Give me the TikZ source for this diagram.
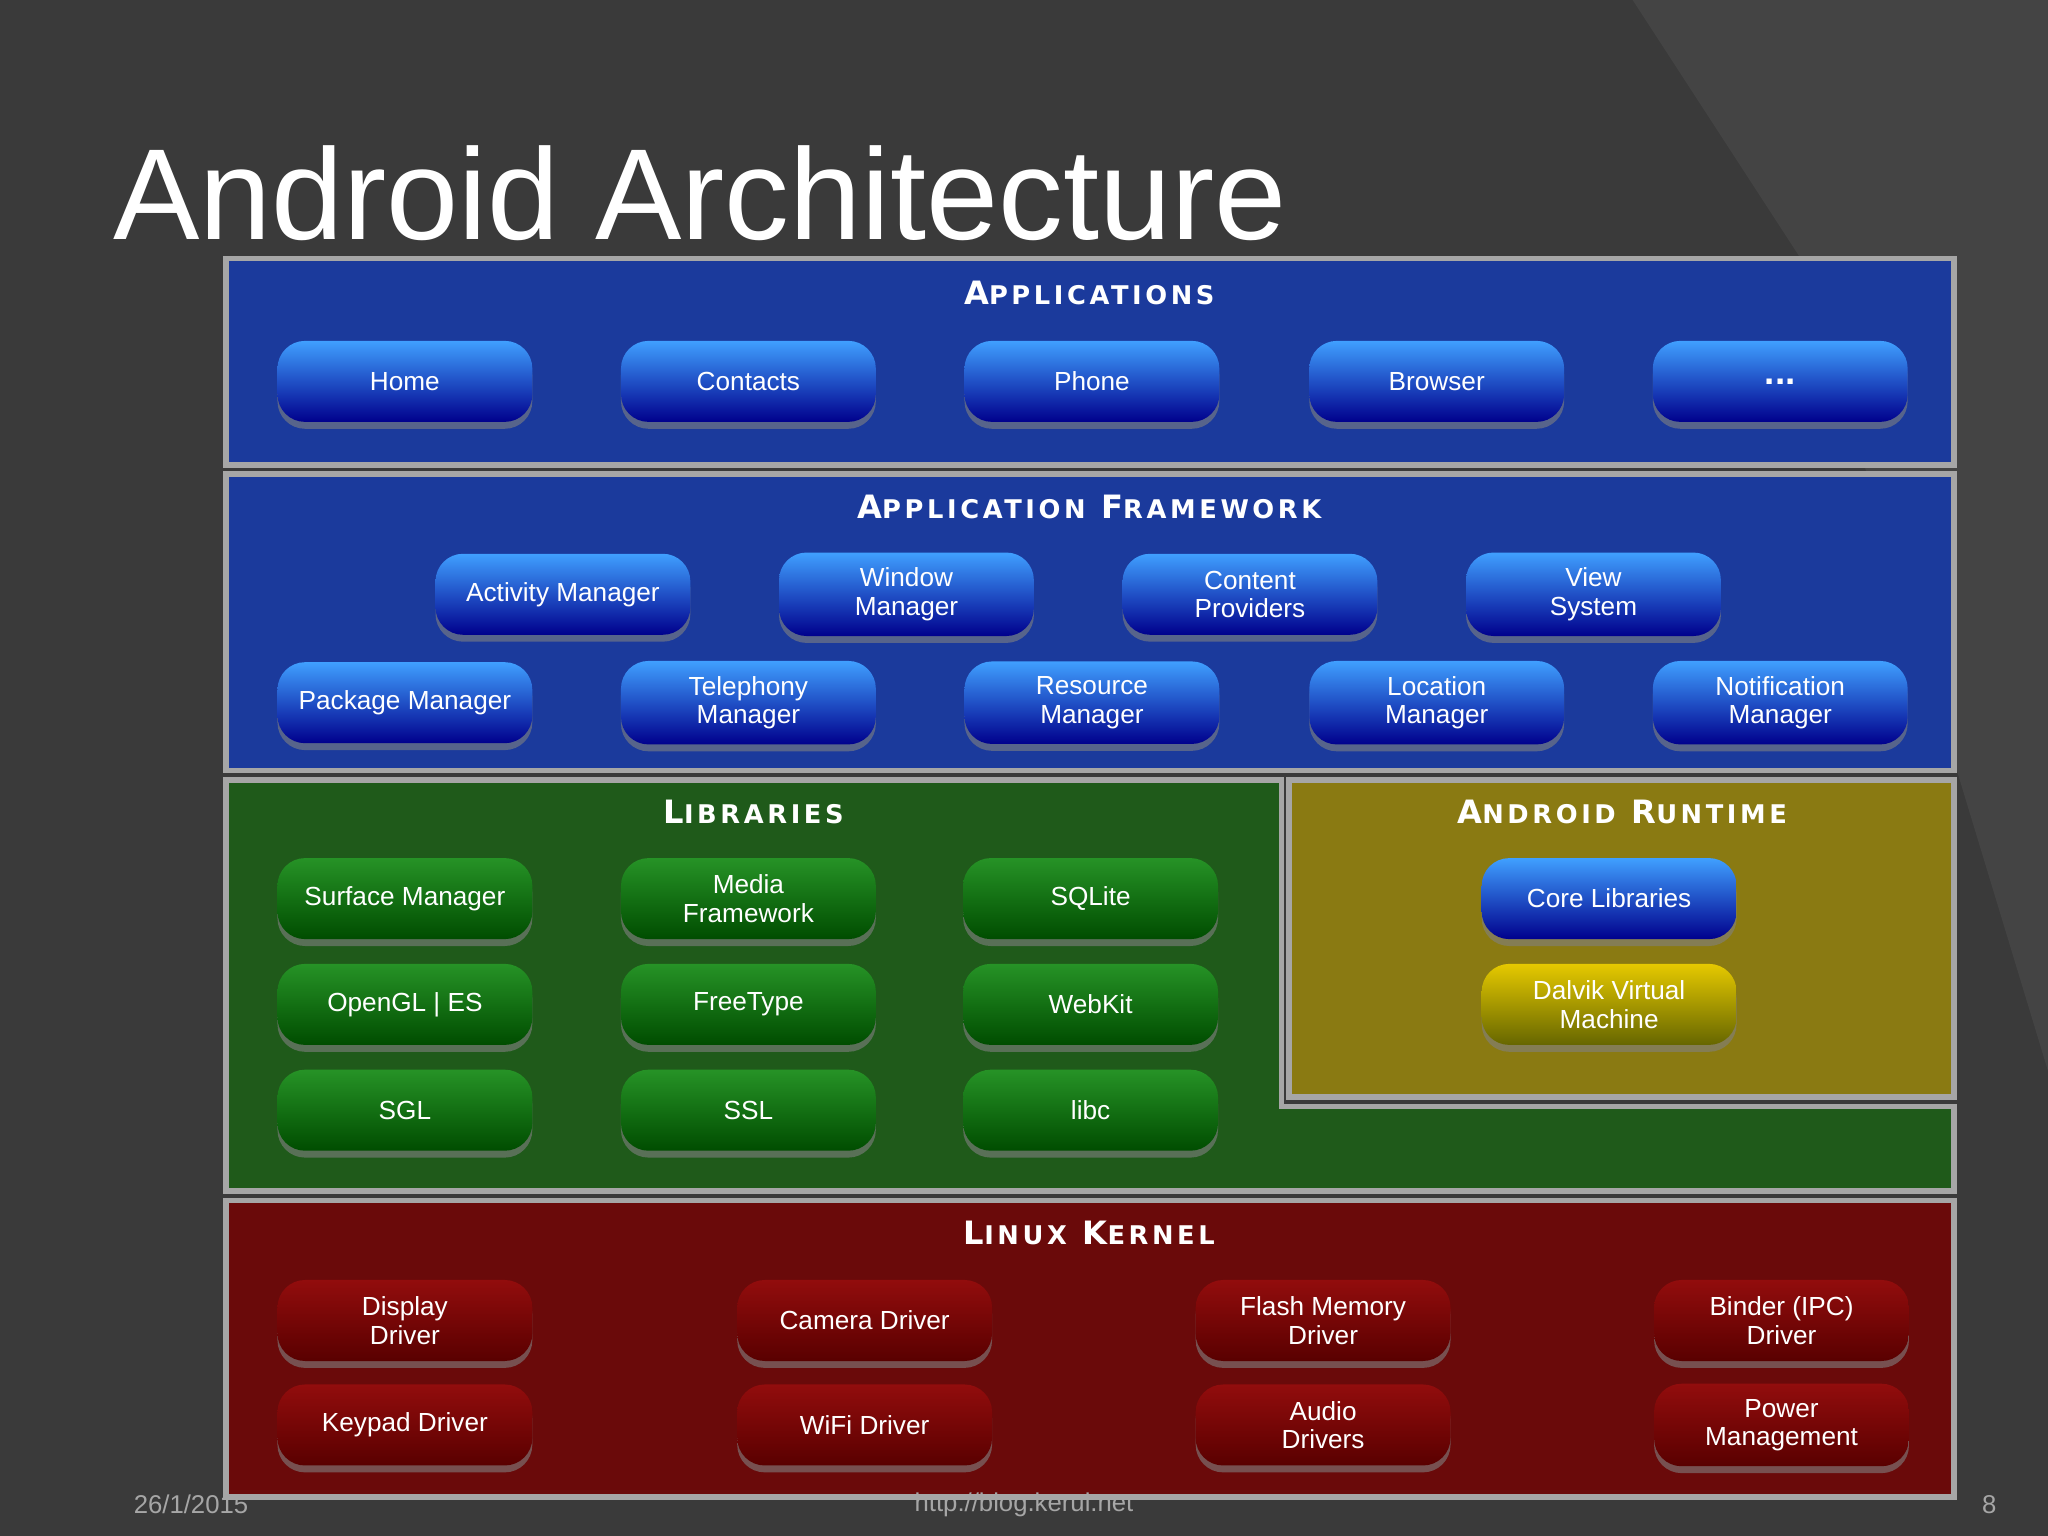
\documentclass[tikz,border=0pt]{standalone}
\usepackage{fontspec}
\setmainfont{Liberation Sans}
\newfontfamily\hfont[LetterSpace=14]{DejaVu Sans}
\newfontfamily\bfont{Liberation Sans}
\usetikzlibrary{shadows}
\definecolor{bg}{HTML}{3A3A3A}
\definecolor{bgl}{HTML}{444444}
\definecolor{blueL}{HTML}{1B3A9C}
\definecolor{greenL}{HTML}{1F5A1A}
\definecolor{yelL}{HTML}{8A7A12}
\definecolor{redL}{HTML}{6A0A0A}
\begin{document}
\begin{tikzpicture}[x=0.01cm,y=-0.01cm,
  layer/.style={draw=gray!70,line width=1.2pt},
  btn/.style={rounded corners=6pt,minimum width=1.95cm,minimum height=0.62cm,
    text=white,font=\bfont\fontsize{5.7}{6.2}\selectfont,align=center,
    drop shadow={shadow xshift=0pt,shadow yshift=-1.5pt,opacity=0.6}},
  bb/.style={btn,top color=blue!50!cyan!75!white,bottom color=blue!55!black},
  gb/.style={btn,top color=green!50!black!85!white,bottom color=green!30!black},
  yb/.style={btn,top color=yellow!75!orange!90!black,bottom color=yellow!40!black},
  rb/.style={btn,top color=red!55!black!95!white,bottom color=red!35!black},
  hdr/.style={text=white,font=\hfont\bfseries\fontsize{7}{8}\selectfont},
  foot/.style={text=gray!70,font=\fontsize{5.6}{6}\selectfont}]
\fill[bg] (0,0) rectangle (1568,1176);
\fill[bgl] (1250,0) -- (1568,0) -- (1568,820) -- (1380,200) -- cycle;
\useasboundingbox (0,0) rectangle (1568,1176);
\node[anchor=base west,text=white,font=\fontsize{28.2}{30}\selectfont,inner sep=0] (title) at (86,183) {Android Architecture};
% layers
\path[layer,fill=blueL] (173,198) rectangle (1496,356);
\path[layer,fill=blueL] (173,363) rectangle (1496,590);
\path[layer,fill=greenL] (173,597) -- (981,597) -- (981,847) -- (1496,847) -- (1496,912) -- (173,912) -- cycle;
\path[layer,fill=yelL] (987,597) rectangle (1496,840);
\path[layer,fill=redL] (173,919) rectangle (1496,1146);
% headers
\node[hdr] (h1) at (834,224) {A{\fontsize{5.6}{6}\selectfont PPLICATIONS}};
\node[hdr] (h2) at (834,388) {A{\fontsize{5.6}{6}\selectfont PPLICATION} F{\fontsize{5.6}{6}\selectfont RAMEWORK}};
\node[hdr] (h3) at (577,622) {L{\fontsize{5.6}{6}\selectfont IBRARIES}};
\node[hdr] (h4) at (1242,622) {A{\fontsize{5.6}{6}\selectfont NDROID} R{\fontsize{5.6}{6}\selectfont UNTIME}};
\node[hdr] (h5) at (834,944) {L{\fontsize{5.6}{6}\selectfont INUX} K{\fontsize{5.6}{6}\selectfont ERNEL}};
% applications
\node[bb] (a1) at (310,292) {Home};
\node[bb] (a2) at (573,292) {Contacts};
\node[bb] (a3) at (836,292) {Phone};
\node[bb] (a4) at (1100,292) {Browser};
\node[bb,font=\bfont\bfseries\fontsize{8}{8}\selectfont] (a5) at (1363,292) {...};
% framework
\node[bb] (f1) at (431,455) {Activity Manager};
\node[bb] (f2) at (694,455) {Window\\Manager};
\node[bb] (f3) at (957,455) {Content\\Providers};
\node[bb] (f4) at (1220,455) {View\\System};
\node[bb] (f5) at (310,538) {Package Manager};
\node[bb] (f6) at (573,538) {Telephony\\Manager};
\node[bb] (f7) at (836,538) {Resource\\Manager};
\node[bb] (f8) at (1100,538) {Location\\Manager};
\node[bb] (f9) at (1363,538) {Notification\\Manager};
% libraries
\node[gb] (l1) at (310,688) {Surface Manager};
\node[gb] (l2) at (573,688) {Media\\Framework};
\node[gb] (l3) at (835,688) {SQLite};
\node[gb] (l4) at (310,769) {OpenGL | ES};
\node[gb] (l5) at (573,769) {FreeType};
\node[gb] (l6) at (835,769) {WebKit};
\node[gb] (l7) at (310,850) {SGL};
\node[gb] (l8) at (573,850) {SSL};
\node[gb] (l9) at (835,850) {libc};
% runtime
\node[bb] (r1) at (1232,688) {Core Libraries};
\node[yb] (r2) at (1232,769) {Dalvik Virtual\\Machine};
% kernel
\node[rb] (k1) at (310,1011) {Display\\Driver};
\node[rb] (k2) at (662,1011) {Camera Driver};
\node[rb] (k3) at (1013,1011) {Flash Memory\\Driver};
\node[rb] (k4) at (1364,1011) {Binder (IPC)\\Driver};
\node[rb] (k5) at (310,1091) {Keypad Driver};
\node[rb] (k6) at (662,1091) {WiFi Driver};
\node[rb] (k7) at (1013,1091) {Audio\\Drivers};
\node[rb] (k8) at (1364,1091) {Power\\Management};
% footer
\node[foot,anchor=west] (d) at (90,1152) {26/1/2015};
\node[foot] (u) at (784,1152) {http://blog.kerul.net};
\node[foot] (p) at (1523,1152) {8};
\end{tikzpicture}
\end{document}
